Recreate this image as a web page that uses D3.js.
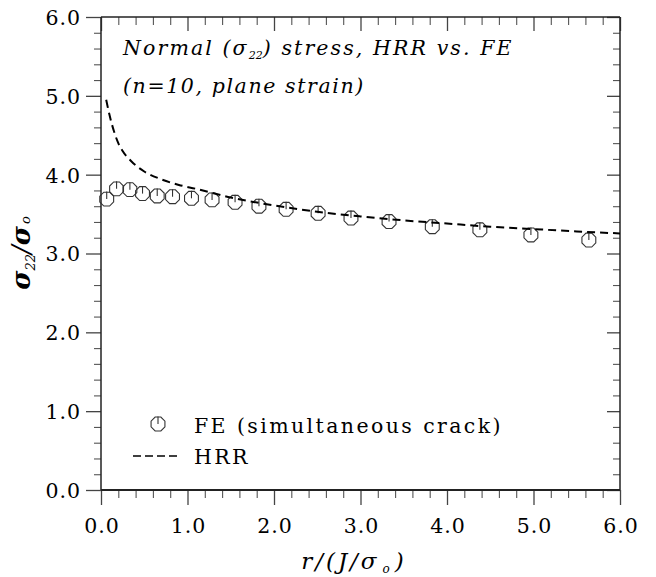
<!DOCTYPE html>
<html>
<head>
<meta charset="utf-8">
<script src="https://cdn.jsdelivr.net/npm/d3@7"></script>
<style>
  html, body { margin: 0; padding: 0; background: #fff; }
  svg { display: block; }
  text { font-family: "DejaVu Serif", "Liberation Serif", serif; fill: #000; }
</style>
</head>
<body>
<svg id="chart" width="656" height="577"></svg>
<script>
// FE results (simultaneous crack): normalized distance and normal stress
const feR     = [0.066, 0.18, 0.334, 0.48, 0.65, 0.827, 1.046, 1.284, 1.55, 1.826, 2.14, 2.51, 2.89, 3.33, 3.83, 4.38, 4.97, 5.64];
const feSigma = [3.69, 3.82, 3.81, 3.76, 3.73, 3.72, 3.70, 3.68, 3.65, 3.60, 3.56, 3.51, 3.45, 3.405, 3.34, 3.30, 3.235, 3.17];

// HRR asymptotic field
const hrrR     = [0.06, 0.10, 0.15, 0.20, 0.25, 0.35, 0.50, 0.70, 0.90, 1.10, 1.50, 2.00, 2.50, 3.00, 3.50, 4.00, 4.50, 5.00, 5.50, 6.00];
const hrrSigma = [4.95, 4.75, 4.55, 4.40, 4.30, 4.17, 4.04, 3.94, 3.87, 3.82, 3.71, 3.61, 3.53, 3.47, 3.42, 3.38, 3.34, 3.31, 3.28, 3.255];

const xTicks = [0, 1, 2, 3, 4, 5, 6];
const yTicks = [0, 1, 2, 3, 4, 5, 6];

const svg = d3.select("#chart");
const m = { left: 101, right: 620, top: 17, bottom: 490 };

const x = d3.scaleLinear().domain([0, 6]).range([m.left, m.right]);
const y = d3.scaleLinear().domain([0, 6]).range([m.bottom, m.top]);

const minorX = d3.range(0, 6.0001, 0.2).filter(v => Math.abs(v - Math.round(v)) > 1e-6);
const minorY = minorX;
const fmt = d3.format(".1f");

// axes: outward ticks on left/bottom, inward ticks on right/top
function drawAxis(axis, pos, major, minor, majLen, minLen, labels) {
  const g = svg.append("g").attr("transform", pos);
  g.call(axis.tickValues(major).tickSize(majLen).tickSizeOuter(0).tickFormat(labels ? fmt : ""));
  g.select(".domain").remove();
  g.selectAll(".tick line").attr("stroke", "#444").attr("stroke-width", 1.3);
  const gm = svg.append("g").attr("transform", pos);
  gm.call(axis.tickValues(minor).tickSize(minLen).tickFormat(""));
  gm.select(".domain").remove();
  gm.selectAll(".tick line").attr("stroke", "#555").attr("stroke-width", 1.1);
  return g;
}

const gb = drawAxis(d3.axisBottom(x), `translate(0,${m.bottom})`, xTicks, minorX, 15, 8, true);
gb.selectAll(".tick text").attr("font-size", 20.5).attr("y", 27).attr("dy", "0.8em")
  .attr("dx", 0.5).style("letter-spacing", "1px")
  .style("font-family", "DejaVu Serif").attr("fill", "#000");
drawAxis(d3.axisTop(x), `translate(0,${m.top})`, xTicks, minorX, -14, -8, false);

const gl = drawAxis(d3.axisLeft(y), `translate(${m.left},0)`, yTicks, minorY, 15, 7, true);
gl.selectAll(".tick text").attr("font-size", 20.5).attr("x", -20).attr("dy", "0.36em")
  .style("letter-spacing", "1px")
  .style("font-family", "DejaVu Serif").attr("fill", "#000");
drawAxis(d3.axisRight(y), `translate(${m.right},0)`, yTicks, minorY, -13, -7, false);

// frame
svg.append("line").attr("x1", m.left).attr("x2", m.left).attr("y1", m.top).attr("y2", m.bottom)
  .attr("stroke", "#222").attr("stroke-width", 1.5);
svg.append("line").attr("x1", m.right).attr("x2", m.right).attr("y1", m.top).attr("y2", m.bottom)
  .attr("stroke", "#222").attr("stroke-width", 1.5);
svg.append("line").attr("x1", m.left).attr("x2", m.right).attr("y1", m.top).attr("y2", m.top)
  .attr("stroke", "#222").attr("stroke-width", 1.3);
svg.append("line").attr("x1", m.left).attr("x2", m.right).attr("y1", m.bottom).attr("y2", m.bottom)
  .attr("stroke", "#222").attr("stroke-width", 2.2);

// octagonal marker with a stem from the top to the center
const R = 7.5;
const octagon = d3.range(8).map(k => {
  const a = Math.PI / 8 + k * Math.PI / 4;
  return [R * Math.cos(a), R * Math.sin(a)];
});
function marker(g) {
  g.append("polygon").attr("points", octagon.map(p => p.join(",")).join(" "))
    .attr("fill", "none").attr("stroke", "#333").attr("stroke-width", 1.1);
  g.append("line").attr("x1", 0).attr("x2", 0).attr("y1", -R).attr("y2", 0)
    .attr("stroke", "#333").attr("stroke-width", 1.1);
}
svg.append("g").selectAll("g").data(feSigma).join("g")
  .attr("transform", (d, i) => `translate(${x(feR[i])},${y(d)})`)
  .each(function () { marker(d3.select(this)); });

// HRR dashed curve
const line = d3.line().x((d, i) => x(hrrR[i])).y(d => y(d)).curve(d3.curveMonotoneX);
svg.append("path").datum(hrrSigma).attr("d", line)
  .attr("fill", "none").attr("stroke", "#000").attr("stroke-width", 2)
  .attr("stroke-dasharray", "8,5");

// annotation
const t1 = svg.append("text").attr("x", 123).attr("y", 55).attr("font-size", 20.5)
  .style("font-style", "italic").style("letter-spacing", "2.1px");
t1.append("tspan").text("Normal (σ");
t1.append("tspan").attr("font-size", 11).attr("dy", 4).style("letter-spacing", "0px").text("22");
t1.append("tspan").attr("dy", -4).text(") stress, HRR vs. FE");
svg.append("text").attr("x", 123).attr("y", 93).attr("font-size", 20.5)
  .style("font-style", "italic").style("letter-spacing", "1.6px").text("(n=10, plane strain)");

// legend
const lg = svg.append("g").attr("transform", "translate(158,424)");
marker(lg);
svg.append("text").attr("x", 194).attr("y", 433).attr("font-size", 20.5)
  .style("letter-spacing", "2.4px").text("FE (simultaneous crack)");
svg.append("line").attr("x1", 133).attr("x2", 177).attr("y1", 456).attr("y2", 456)
  .attr("stroke", "#000").attr("stroke-width", 1.5).attr("stroke-dasharray", "8,4");
svg.append("text").attr("x", 194).attr("y", 464).attr("font-size", 20.5)
  .style("letter-spacing", "2.4px").text("HRR");

// axis titles
const xl = svg.append("text").attr("x", 354).attr("y", 569).attr("font-size", 23)
  .attr("text-anchor", "middle").style("font-style", "italic").style("letter-spacing", "3px");
xl.append("tspan").text("r/(J/σ");
xl.append("tspan").attr("font-size", 12).attr("dy", 4).attr("dx", 3).text("o");
xl.append("tspan").attr("dy", -4).attr("dx", 2).text(")");

const yl = svg.append("text").attr("transform", "translate(30,253) rotate(-90)")
  .attr("font-size", 26).attr("text-anchor", "middle").style("font-style", "italic")
  .style("font-weight", "bold");
yl.append("tspan").text("σ");
yl.append("tspan").attr("font-size", 13).attr("dy", 5).style("font-weight", "normal").text("22");
yl.append("tspan").attr("dy", -5).style("font-weight", "normal").text("/");
yl.append("tspan").text("σ");
yl.append("tspan").attr("font-size", 13).attr("dx", 2).style("font-weight", "normal").text("o");
</script>
</body>
</html>
